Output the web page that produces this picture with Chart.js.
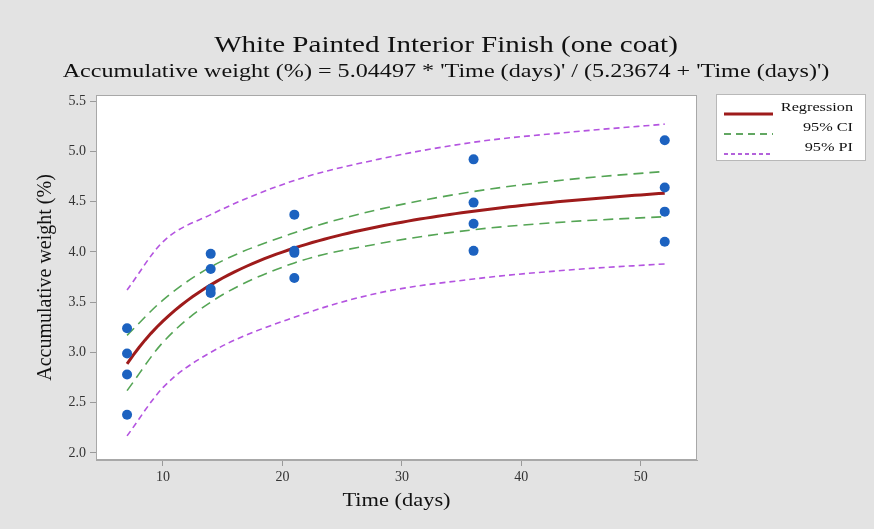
<!DOCTYPE html>
<html>
<head>
<meta charset="utf-8">
<script src="https://cdn.jsdelivr.net/npm/chart.js@4.4.1/dist/chart.umd.min.js"></script>
<style>
  html, body { margin: 0; padding: 0; background: #e3e3e3; }
  canvas { display: block; }
</style>
</head>
<body>
<canvas id="fit" width="874" height="529"></canvas>
<script>
// observed accumulative weight (%) at each sampling time
const obsTimes = [7, 7, 7, 7, 14, 14, 14, 14, 21, 21, 21, 21, 36, 36, 36, 36, 52, 52, 52, 52];
const obsWeight = [3.24, 2.99, 2.78, 2.38, 3.98, 3.83, 3.63, 3.59, 4.37, 4.01, 3.99, 3.74, 4.92, 4.49, 4.28, 4.01, 5.11, 4.64, 4.40, 4.10];

// fitted model: weight = a * t / (b + t)
const coefA = 5.04497;
const coefB = 5.23674;
const fitStart = 7;
const fitEnd = 52;

// confidence / prediction bands
const bandTimes = [7, 10, 14, 21, 28, 36, 44, 52];
const ciUpper = [3.17, 3.52, 3.85, 4.19, 4.42, 4.60, 4.72, 4.80];
const ciLower = [2.62, 3.10, 3.50, 3.89, 4.08, 4.22, 4.30, 4.35];
const piUpper = [3.62, 4.10, 4.37, 4.71, 4.92, 5.09, 5.19, 5.27];
const piLower = [2.17, 2.65, 3.00, 3.35, 3.59, 3.73, 3.82, 3.88];

const xTicks = [10, 20, 30, 40, 50];
const yTicks = [2.0, 2.5, 3.0, 3.5, 4.0, 4.5, 5.0, 5.5];

const titleText = "White Painted Interior Finish (one coat)";
const subtitleText = "Accumulative weight (%) = 5.04497 * 'Time (days)' / (5.23674 + 'Time (days)')";
const xTitle = "Time (days)";
const yTitle = "Accumulative weight (%)";

const SERIF = "'Liberation Serif', 'Times New Roman', serif";
const RED = "#9e1b1b";
const GREEN = "#55a555";
const PURPLE = "#b454e0";
const BLUE = "#1c62c0";

const pts = (xs, ys) => xs.map((x, i) => ({ x: x, y: ys[i] }));

const fitLine = [];
for (let t = fitStart; t <= fitEnd; t += 0.5) {
  fitLine.push({ x: t, y: coefA * t / (coefB + t) });
}

const legendItems = [
  { label: "Regression", color: RED, width: 3, dash: [] },
  { label: "95% CI", color: "#2f8a2f", width: 1.3, dash: [7, 5] },
  { label: "95% PI", color: "#9a2fd0", width: 1.3, dash: [4, 3] }
];

// wide serif text: draw with a horizontal stretch around the anchor
function wideText(ctx, text, x, y, size, stretch, align) {
  ctx.save();
  ctx.font = size + "px " + SERIF;
  ctx.textAlign = align;
  ctx.translate(x, y);
  ctx.scale(stretch, 1);
  ctx.fillText(text, 0, 0);
  ctx.restore();
}

const frame = {
  id: "frame",
  beforeDraw(chart) {
    const ctx = chart.ctx;
    const a = chart.chartArea;
    ctx.save();
    ctx.fillStyle = "#e3e3e3";
    ctx.fillRect(0, 0, chart.width, chart.height);
    ctx.fillStyle = "#ffffff";
    ctx.fillRect(a.left, a.top, a.right - a.left, a.bottom - a.top);
    ctx.strokeStyle = "#a8a8a8";
    ctx.lineWidth = 1;
    ctx.strokeRect(a.left + 0.5, a.top + 0.5, a.right - a.left - 1, a.bottom - a.top - 1);

    ctx.fillStyle = "#111";
    ctx.textBaseline = "alphabetic";
    wideText(ctx, titleText, 446, 52, 24, 1.21, "center");
    wideText(ctx, subtitleText, 446, 77, 19, 1.27, "center");
    wideText(ctx, xTitle, (a.left + a.right) / 2, 506, 19, 1.18, "center");
    ctx.restore();
  },
  afterDraw(chart) {
    const ctx = chart.ctx;
    ctx.save();
    ctx.fillStyle = "#ffffff";
    ctx.fillRect(716, 94, 150, 67);
    ctx.strokeStyle = "#b8b8b8";
    ctx.lineWidth = 1;
    ctx.strokeRect(716.5, 94.5, 149, 66);
    ctx.textBaseline = "middle";
    legendItems.forEach((it, i) => {
      const y = 108 + i * 20;
      ctx.fillStyle = "#111";
      wideText(ctx, it.label, 853, y, 13, 1.25, "right");
      ctx.beginPath();
      ctx.strokeStyle = it.color;
      ctx.lineWidth = it.width;
      ctx.setLineDash(it.dash);
      ctx.moveTo(724, y + 6);
      ctx.lineTo(773, y + 6);
      ctx.stroke();
      ctx.setLineDash([]);
    });
    ctx.restore();
  }
};

new Chart(document.getElementById("fit"), {
  type: "line",
  data: {
    datasets: [
      {
        label: "Observed",
        data: pts(obsTimes, obsWeight),
        showLine: false,
        pointRadius: 5,
        pointBackgroundColor: BLUE,
        pointBorderColor: BLUE,
        pointBorderWidth: 0,
        order: 0
      },
      {
        label: "Regression",
        data: fitLine,
        borderColor: RED,
        borderWidth: 3,
        pointRadius: 0,
        order: 1
      },
      {
        label: "95% CI upper",
        data: pts(bandTimes, ciUpper),
        borderColor: GREEN,
        borderWidth: 1.6,
        borderDash: [10, 6],
        cubicInterpolationMode: "monotone",
        pointRadius: 0,
        order: 2
      },
      {
        label: "95% CI lower",
        data: pts(bandTimes, ciLower),
        borderColor: GREEN,
        borderWidth: 1.6,
        borderDash: [10, 6],
        cubicInterpolationMode: "monotone",
        pointRadius: 0,
        order: 2
      },
      {
        label: "95% PI upper",
        data: pts(bandTimes, piUpper),
        borderColor: PURPLE,
        borderWidth: 1.6,
        borderDash: [6, 4],
        cubicInterpolationMode: "monotone",
        pointRadius: 0,
        order: 3
      },
      {
        label: "95% PI lower",
        data: pts(bandTimes, piLower),
        borderColor: PURPLE,
        borderWidth: 1.6,
        borderDash: [6, 4],
        cubicInterpolationMode: "monotone",
        pointRadius: 0,
        order: 3
      }
    ]
  },
  options: {
    responsive: false,
    animation: false,
    devicePixelRatio: 1,
    layout: { padding: { top: 95, right: 177, left: 0, bottom: 0 } },
    plugins: {
      legend: { display: false },
      tooltip: { enabled: false }
    },
    scales: {
      x: {
        type: "linear",
        min: 4.4,
        max: 54.7,
        afterFit: (s) => { s.height = 69; },
        afterBuildTicks: (s) => { s.ticks = xTicks.map((v) => ({ value: v })); },
        grid: { drawOnChartArea: false, drawTicks: true, tickLength: 6, color: "#9a9a9a" },
        border: { display: true, color: "#a8a8a8" },
        ticks: { color: "#333", font: { family: SERIF, size: 14 }, padding: 3 }
      },
      y: {
        type: "linear",
        min: 1.93,
        max: 5.56,
        afterFit: (s) => { s.width = 96; },
        afterBuildTicks: (s) => { s.ticks = yTicks.map((v) => ({ value: v })); },
        grid: { drawOnChartArea: false, drawTicks: true, tickLength: 6, color: "#9a9a9a" },
        border: { display: true, color: "#a8a8a8" },
        ticks: {
          color: "#333",
          font: { family: SERIF, size: 14 },
          padding: 4,
          callback: (v) => Number(v).toFixed(1)
        },
        title: {
          display: true,
          text: yTitle,
          color: "#111",
          font: { family: SERIF, size: 20 },
          padding: { top: 34, bottom: 34 }
        }
      }
    }
  },
  plugins: [frame]
});
</script>
</body>
</html>
